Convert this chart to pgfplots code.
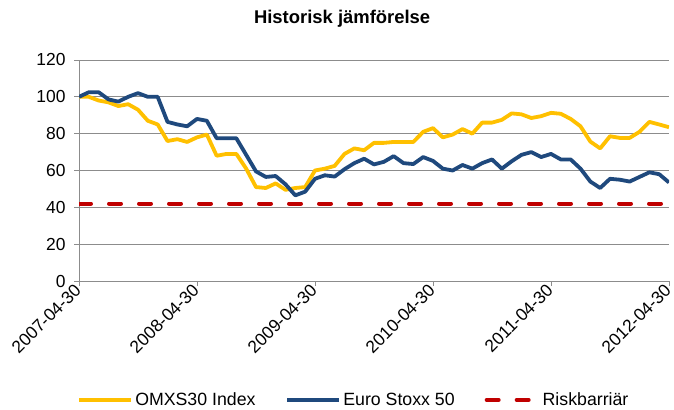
\documentclass[border=0pt]{standalone}
\usepackage{pgfplots}
\pgfplotsset{compat=1.18}
\usepackage{fontspec}
\setmainfont{Liberation Sans}
\definecolor{omx}{HTML}{FFC000}
\definecolor{euro}{HTML}{1F497D}
\definecolor{risk}{HTML}{C00000}
\definecolor{gridc}{HTML}{8C8C8C}
\begin{document}
\begin{tikzpicture}
\useasboundingbox (0,0) rectangle (674bp,410bp);
\begin{axis}[
  at={(79bp,129bp)}, anchor=south west,
  scale only axis, width=590bp, height=221bp,
  xmin=0, xmax=60, ymin=0, ymax=120,
  axis x line*=bottom, axis y line*=left,
  axis line style={gridc, line width=0.8bp},
  xtick={0,12,24,36,48,60},
  xticklabels={2007-04-30,2008-04-30,2009-04-30,2010-04-30,2011-04-30,2012-04-30},
  ytick={0,20,...,120},
  ymajorgrids, grid style={gridc, line width=0.8bp},
  tick align=outside, major tick length=5bp,
  tick style={gridc, line width=0.8bp},
  /pgf/number format/assume math mode=true,
  ticklabel style={font=\fontsize{17.5}{17.5}\selectfont},
  xticklabel style={rotate=45, anchor=east, inner sep=1.5bp},
  yticklabel style={xshift=-5bp},
  title={Historisk jämförelse},
  title style={at={(0.446,1.16)}, anchor=center, font=\bfseries\fontsize{18.5}{18.5}\selectfont},
  legend columns=3,
  legend style={at={(0.466,-0.538)}, anchor=center, draw=none, fill=none,
    font=\fontsize{17.8}{17.8}\selectfont,
    /tikz/every even column/.append style={column sep=28bp}},
  legend image code/.code={\draw[#1] (0bp,0bp) -- (52bp,0bp);},
]
\addplot[omx, line width=3.8bp, line join=round] coordinates {
(0,100) (1,100) (2,98) (3,97) (4,95) (5,96) (6,93) (7,87) (8,85) (9,76)
(10,77) (11,75.5) (12,78) (13,79.5) (14,68) (15,69) (16,69) (17,61) (18,51) (19,50.5)
(20,53) (21,49.5) (22,50.5) (23,51) (24,60) (25,61) (26,62.5) (27,69) (28,72) (29,71)
(30,75) (31,75) (32,75.5) (33,75.5) (34,75.5) (35,81) (36,83) (37,78) (38,79.5) (39,82.5)
(40,80) (41,86) (42,86) (43,87.5) (44,91) (45,90.5) (46,88.5) (47,89.5) (48,91.3) (49,90.8)
(50,88) (51,84) (52,75.7) (53,72) (54,78.6) (55,77.7) (56,77.7) (57,81) (58,86.4) (59,85)
(60,83.5)};
\addlegendentry{OMXS30 Index}
\addplot[euro, line width=3.8bp, line join=round] coordinates {
(0,100) (1,102.5) (2,102.5) (3,98.6) (4,97.4) (5,100) (6,102) (7,100) (8,100) (9,86.4)
(10,85) (11,84) (12,88) (13,87) (14,77.5) (15,77.5) (16,77.5) (17,68.5) (18,59.5) (19,56.5)
(20,57) (21,52.5) (22,46.5) (23,48.5) (24,55.5) (25,57.4) (26,56.7) (27,60.7) (28,64) (29,66.4)
(30,63.3) (31,64.7) (32,67.8) (33,64) (34,63.5) (35,67.3) (36,65.2) (37,61) (38,60) (39,63)
(40,61) (41,64) (42,66) (43,61) (44,65) (45,68.5) (46,70) (47,67.3) (48,69) (49,66)
(50,66) (51,61) (52,54) (53,50.5) (54,55.5) (55,55) (56,54) (57,56.5) (58,59) (59,58)
(60,53.5)};
\addlegendentry{Euro Stoxx 50}
\addplot[risk, line width=4bp, line cap=round, dash pattern=on 12bp off 18bp] coordinates {(0,42) (60,42)};
\addlegendentry{Riskbarriär}
\end{axis}
\end{tikzpicture}
\end{document}
